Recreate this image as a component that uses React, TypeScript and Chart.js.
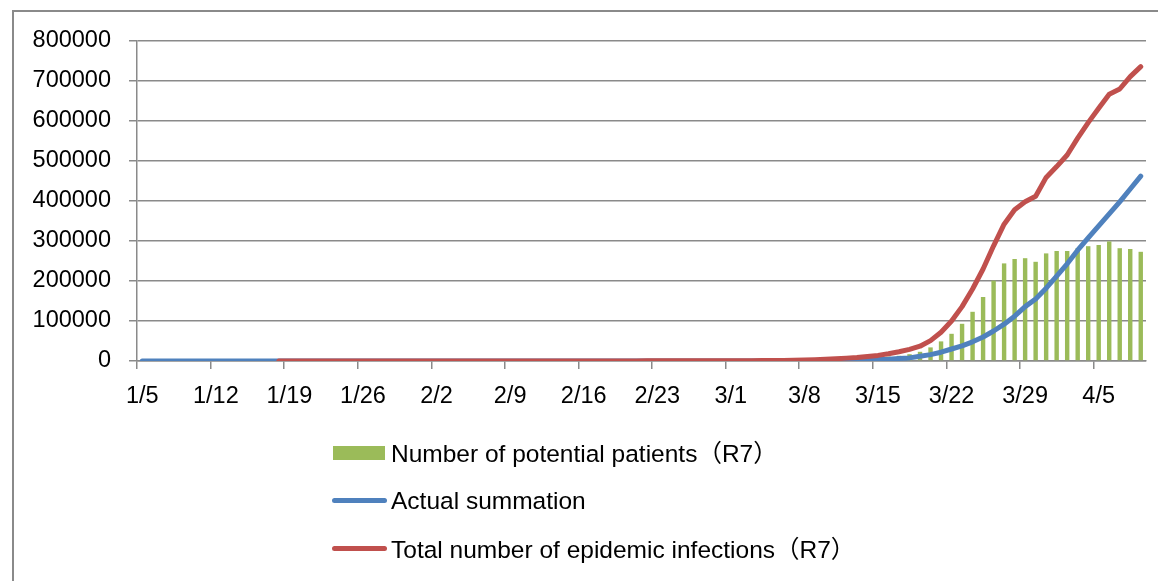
import React, { useEffect, useRef } from "react";
import { Chart, registerables } from "chart.js";

Chart.register(...registerables);

// Daily categories 1/5 .. 4/9
const categories = [
  "1/5", "1/6", "1/7", "1/8", "1/9", "1/10", "1/11", "1/12", "1/13", "1/14", "1/15", "1/16", "1/17", "1/18",
  "1/19", "1/20", "1/21", "1/22", "1/23", "1/24", "1/25", "1/26", "1/27", "1/28", "1/29", "1/30", "1/31",
  "2/1", "2/2", "2/3", "2/4", "2/5", "2/6", "2/7", "2/8", "2/9", "2/10", "2/11", "2/12", "2/13", "2/14",
  "2/15", "2/16", "2/17", "2/18", "2/19", "2/20", "2/21", "2/22", "2/23", "2/24", "2/25", "2/26", "2/27",
  "2/28", "2/29",
  "3/1", "3/2", "3/3", "3/4", "3/5", "3/6", "3/7", "3/8", "3/9", "3/10", "3/11", "3/12", "3/13", "3/14",
  "3/15", "3/16", "3/17", "3/18", "3/19", "3/20", "3/21", "3/22", "3/23", "3/24", "3/25", "3/26", "3/27",
  "3/28", "3/29", "3/30", "3/31",
  "4/1", "4/2", "4/3", "4/4", "4/5", "4/6", "4/7", "4/8", "4/9",
];

// Green bars: Number of potential patients (R7)
const potentialPatients = [
  0, 0, 0, 0, 0, 0, 0, 0, 0, 0, 0, 0, 0, 0, 0, 0, 0, 0, 0, 0, 0, 0, 0, 0, 0, 0, 0,
  0, 0, 0, 0, 0, 0, 0, 0, 0, 0, 0, 0, 0, 0, 0, 0, 0, 0, 0, 0, 0, 0, 0, 0, 0, 0, 0, 0, 0,
  0, 0, 0, 0, 0, 0, 0, 0, 0, 0, 2500, 3500, 5000, 7000, 9000, 11000, 13000, 17000,
  23000, 34000, 49000, 68000, 93000, 123000, 160000, 201000, 244000, 255000, 257000, 248000, 269000,
  275000, 275000, 282000, 287000, 290000, 299000, 282000, 280000, 273000,
];

// Blue line: Actual summation
const actualSummation = [
  0, 0, 0, 0, 0, 0, 0, 0, 0, 0, 0, 0, 0, 0, 0, 0, 0, 1, 1, 2, 2, 5, 5, 5, 6, 6, 8,
  8, 11, 11, 11, 12, 12, 12, 12, 12, 12, 13, 13, 14, 14, 14, 14, 14, 14, 14, 14, 16, 16, 16, 51, 51, 57, 58, 60, 68,
  70, 100, 120, 150, 220, 260, 400, 520, 580, 960, 1300, 1700, 2200, 2700, 3500, 4600, 6400, 7800,
  12000, 16000, 22000, 30000, 38000, 48000, 60000, 75000, 92000, 112000, 136000, 155000, 182000,
  212000, 243000, 277000, 308000, 338000, 368000, 398000, 430000, 462000,
];

// Red line: Total number of epidemic infections (R7); starts 1/18
const totalInfections = [
  null, null, null, null, null, null, null, null, null, null, null, null, null,
  20, 25, 30, 40, 45, 55, 60, 70, 80, 90, 100, 110, 125, 140,
  150, 160, 170, 180, 190, 200, 205, 215, 220, 230, 235, 240, 250, 255, 260, 270, 275, 280, 290, 300,
  310, 320, 330, 345, 360, 380, 400, 420, 450,
  500, 600, 750, 950, 1200, 1500, 1900, 2500, 3200, 4200, 5500, 7200, 9000, 11500, 14000, 18000, 23000, 29000,
  37000, 51000, 72000, 100000, 136000, 180000, 230000, 288000, 342000, 378000, 398000, 412000, 459000,
  486000, 515000, 557000, 596000, 632000, 667000, 680000, 711000, 736000,
];

const seriesLabels = [
  "Number of potential patients（R7）",
  "Actual summation",
  "Total number of epidemic infections（R7）",
];
const seriesColors = ["#9BBB59", "#4F81BD", "#C0504D"];

const Y_MIN = 0;
const Y_MAX = 800000;
const Y_STEP = 100000;
const LABEL_EVERY = 7;

const GRID = "#8a8a8a";
const FONT = "'Liberation Sans', 'Noto Sans CJK SC', sans-serif";

export default function App() {
  const ref = useRef<HTMLCanvasElement>(null);

  useEffect(() => {
    const chart = new Chart(ref.current as HTMLCanvasElement, {
      type: "bar",
      data: {
        labels: categories,
        datasets: [
          {
            type: "bar",
            label: seriesLabels[0],
            data: potentialPatients,
            backgroundColor: seriesColors[0],
            borderWidth: 0,
            categoryPercentage: 1,
            barPercentage: 0.42,
            order: 3,
          },
          {
            type: "line",
            label: seriesLabels[1],
            data: actualSummation,
            borderColor: seriesColors[1],
            backgroundColor: seriesColors[1],
            borderWidth: 5,
            pointRadius: 0,
            tension: 0,
            borderCapStyle: "round",
            borderJoinStyle: "round",
            order: 2,
          },
          {
            type: "line",
            label: seriesLabels[2],
            data: totalInfections,
            borderColor: seriesColors[2],
            backgroundColor: seriesColors[2],
            borderWidth: 5,
            pointRadius: 0,
            tension: 0,
            borderCapStyle: "round",
            borderJoinStyle: "round",
            order: 1,
          },
        ] as any,
      },
      options: {
        responsive: false,
        animation: false,
        events: [],
        layout: { padding: { left: 0, top: 41, right: 12, bottom: 160 } },
        plugins: { legend: { display: false }, tooltip: { enabled: false } },
        scales: {
          x: {
            type: "category",
            offset: true,
            grid: {
              offset: true,
              drawOnChartArea: false,
              drawTicks: true,
              tickLength: 8,
              lineWidth: 1.5,
              color: (ctx: any) => (ctx.index % LABEL_EVERY === 0 ? GRID : "rgba(0,0,0,0)"),
            },
            border: { display: true, color: GRID, width: 1.5 },
            ticks: {
              autoSkip: false,
              maxRotation: 0,
              minRotation: 0,
              padding: 13,
              color: "#000",
              font: { family: FONT, size: 23.5 },
              callback: (_v: any, i: number) => (i % LABEL_EVERY === 0 ? categories[i] : ""),
            },
            afterFit: (s: any) => {
              s.height = 60;
            },
          },
          y: {
            min: Y_MIN,
            max: Y_MAX,
            grid: { color: GRID, lineWidth: 1.5, tickLength: 8, drawTicks: true },
            border: { display: true, color: GRID, width: 1.5 },
            ticks: {
              stepSize: Y_STEP,
              padding: 18,
              color: "#000",
              font: { family: FONT, size: 23.5 },
              callback: (v: any) => String(v),
            },
            afterFit: (s: any) => {
              s.width = 137;
            },
          },
        },
      } as any,
    });
    return () => chart.destroy();
  }, []);

  const textStyle: React.CSSProperties = {
    position: "absolute",
    left: 391,
    height: 30,
    lineHeight: "30px",
    fontFamily: FONT,
    fontSize: 24.5,
    color: "#000",
    whiteSpace: "nowrap",
  };

  return (
    <div
      style={{
        position: "fixed",
        left: 0,
        top: 0,
        width: 1158,
        height: 581,
        overflow: "hidden",
        background: "#fff",
      }}
    >
      <div
        style={{
          position: "absolute",
          left: 12,
          top: 10,
          width: 1170,
          height: 640,
          border: "2px solid #8a8a8a",
        }}
      />
      <canvas
        ref={ref}
        width={1158}
        height={581}
        style={{ position: "absolute", left: 0, top: 0, width: 1158, height: 581 }}
      />
      {/* legend */}
      <div
        style={{
          position: "absolute",
          left: 333,
          top: 446,
          width: 52,
          height: 14,
          background: seriesColors[0],
        }}
      />
      <div style={{ ...textStyle, top: 438.5 }}>{seriesLabels[0]}</div>
      <div
        style={{
          position: "absolute",
          left: 332,
          top: 498,
          width: 55,
          height: 5,
          borderRadius: 2.5,
          background: seriesColors[1],
        }}
      />
      <div style={{ ...textStyle, top: 486 }}>{seriesLabels[1]}</div>
      <div
        style={{
          position: "absolute",
          left: 332,
          top: 546,
          width: 55,
          height: 5,
          borderRadius: 2.5,
          background: seriesColors[2],
        }}
      />
      <div style={{ ...textStyle, top: 535 }}>{seriesLabels[2]}</div>
    </div>
  );
}
